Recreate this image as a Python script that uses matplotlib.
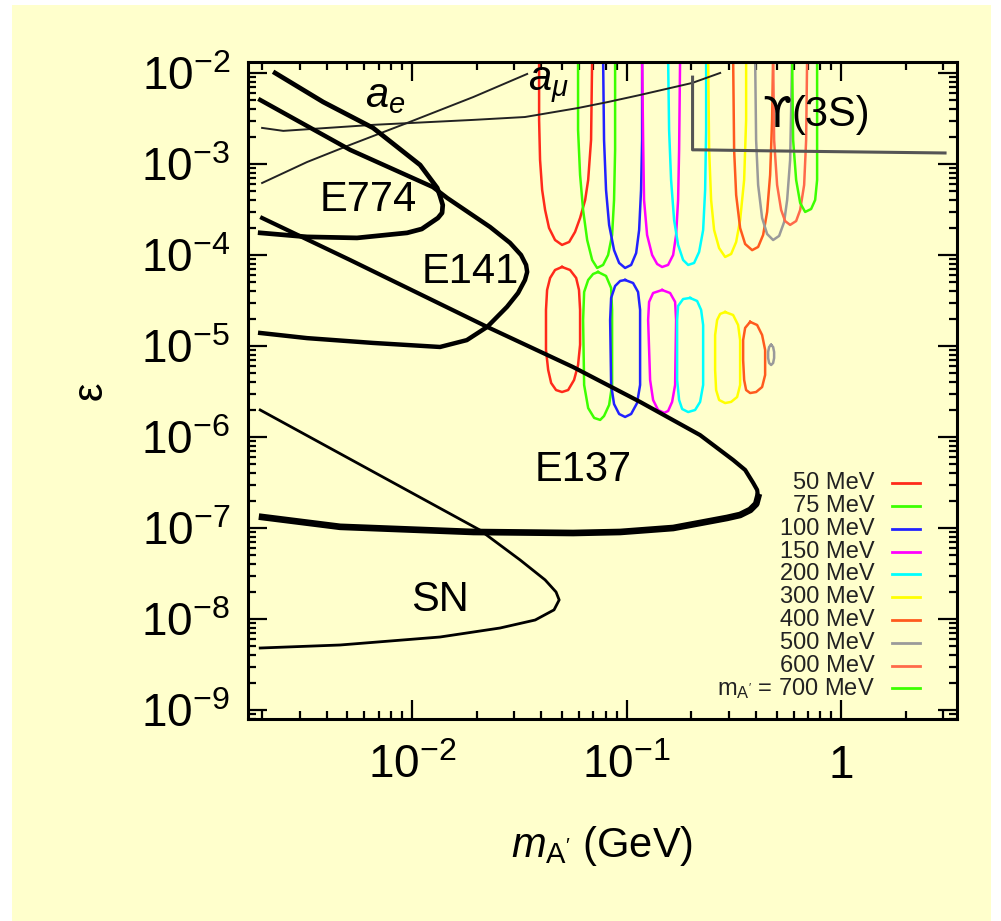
import numpy as np
import matplotlib
matplotlib.use('Agg')
import matplotlib.pyplot as plt
from matplotlib.patches import Rectangle
from matplotlib.ticker import LogLocator, NullFormatter

plt.rcParams['font.family'] = ['Liberation Sans', 'DejaVu Sans']
plt.rcParams['mathtext.fontset'] = 'custom'
plt.rcParams['mathtext.rm'] = 'Liberation Sans'
plt.rcParams['mathtext.it'] = 'Liberation Sans:italic'
plt.rcParams['mathtext.default'] = 'regular'

bg = '#FFFFCC'

# ticks
x_ticks = [1e-2, 1e-1, 1]
x_ticklabels = ['$10^{-2}$', '$10^{-1}$', '1']
y_ticks = [1e-9, 1e-8, 1e-7, 1e-6, 1e-5, 1e-4, 1e-3, 1e-2]
y_ticklabels = ['$10^{-9}$', '$10^{-8}$', '$10^{-7}$', '$10^{-6}$',
                '$10^{-5}$', '$10^{-4}$', '$10^{-3}$', '$10^{-2}$']

# black exclusion curves (mass in GeV, epsilon)
e774_m = [2.30e-3, 3.85e-3, 6.58e-3, 1.09e-2, 1.31e-2, 1.35e-2, 1.39e-2, 1.38e-2, 1.32e-2, 1.11e-2, 9.48e-3, 5.54e-3, 3.24e-3, 1.96e-3]
e774_eps = [1.0e-2, 4.80e-3, 2.49e-3, 9.75e-4, 5.45e-4, 4.45e-4, 3.54e-4, 2.90e-4, 2.55e-4, 1.93e-4, 1.75e-4, 1.54e-4, 1.58e-4, 1.75e-4]

e141_m = [1.96e-3, 5.14e-3, 1.25e-2, 1.46e-2, 2.31e-2, 2.86e-2, 3.22e-2, 3.40e-2, 3.44e-2, 3.36e-2, 3.12e-2, 2.77e-2, 2.24e-2, 1.80e-2, 1.35e-2, 6.58e-3, 3.24e-3, 1.96e-3]
e141_eps = [5.05e-3, 1.43e-3, 5.58e-4, 4.22e-4, 2.03e-4, 1.36e-4, 1.0e-4, 7.77e-5, 6.50e-5, 5.31e-5, 3.82e-5, 2.69e-5, 1.62e-5, 1.16e-5, 9.75e-6, 1.08e-5, 1.22e-5, 1.39e-5]

e137_up_m = [2.0e-3, 5.14e-3, 2.24e-2, 5.63e-2, 0.1156, 0.220, 0.314, 0.357, 0.389, 0.406, 0.410]
e137_up_eps = [2.55e-4, 8.81e-5, 1.62e-5, 5.87e-6, 2.43e-6, 1.05e-6, 5.58e-7, 4.34e-7, 3.13e-7, 2.62e-7, 2.19e-7]
e137_low_m = [0.410, 0.402, 0.377, 0.338, 0.294, 0.220, 0.165, 9.33e-2, 5.63e-2, 1.93e-2, 4.62e-3, 2.0e-3]
e137_low_eps = [2.19e-7, 1.84e-7, 1.58e-7, 1.39e-7, 1.29e-7, 1.135e-7, 1.0e-7, 9.04e-8, 8.81e-8, 9.04e-8, 1.03e-7, 1.32e-7]

sn_m = [1.96e-3, 2.07e-2, 3.19e-2, 4.17e-2, 4.69e-2, 4.85e-2, 4.59e-2, 3.75e-2, 2.57e-2, 1.35e-2, 4.62e-3, 1.96e-3]
sn_eps = [1.98e-6, 9.5e-8, 4.45e-8, 2.69e-8, 1.98e-8, 1.62e-8, 1.26e-8, 9.75e-9, 7.96e-9, 6.34e-9, 5.18e-9, 4.80e-9]

ae_m = [2.0e-3, 3.24e-3, 5.14e-3, 9.48e-3, 1.93e-2, 3.44e-2]
ae_eps = [6.18e-4, 1.05e-3, 1.62e-3, 2.82e-3, 5.44e-3, 9.75e-3]

amu_m = [2.0e-3, 2.51e-3, 6.58e-3, 1.93e-2, 3.36e-2, 5.94e-2, 8.20e-2, 0.1156, 0.202, 0.273]
amu_eps = [2.49e-3, 2.31e-3, 2.69e-3, 3.05e-3, 3.28e-3, 4.12e-3, 4.80e-3, 5.73e-3, 7.76e-3, 1.0e-2]

ups_m = [0.203, 0.203, 0.213, 0.50, 3.05]
ups_eps = [9.0e-3, 1.43e-3, 1.43e-3, 1.39e-3, 1.32e-3]

# colored contours: upper (U shaped) and lower (closed) regions per A' mass
u50_m = [0.0391, 0.0391, 0.0395, 0.0404, 0.0417, 0.0435, 0.0464, 0.0500, 0.0540, 0.0575, 0.0607, 0.0641, 0.0662, 0.0683, 0.0691]
u50_eps = [1.5e-2, 3.05e-3, 1.11e-3, 5.18e-4, 3.12e-4, 1.98e-4, 1.46e-4, 1.29e-4, 1.39e-4, 1.79e-4, 2.55e-4, 4.02e-4, 6.67e-4, 1.84e-3, 1.5e-2]
u75_m = [0.0594, 0.0594, 0.0607, 0.0627, 0.0655, 0.0691, 0.0729, 0.0777, 0.0820, 0.0856, 0.0874, 0.0884, 0.0884]
u75_eps = [1.5e-2, 2.37e-3, 7.57e-4, 3.12e-4, 1.46e-4, 8.81e-5, 7.20e-5, 7.77e-5, 1.0e-4, 1.66e-4, 4.02e-4, 1.425e-3, 1.5e-2]
u100_m = [0.0777, 0.0785, 0.0802, 0.0829, 0.0874, 0.0923, 0.0984, 0.1050, 0.1108, 0.1144, 0.1168, 0.1181, 0.1181]
u100_eps = [1.5e-2, 1.84e-3, 5.18e-4, 2.14e-4, 1.13e-4, 8.17e-5, 7.20e-5, 7.77e-5, 1.05e-4, 1.88e-4, 5.18e-4, 1.84e-3, 1.5e-2]
u150_m = [0.1181, 0.1194, 0.1206, 0.1246, 0.1315, 0.1388, 0.1464, 0.1561, 0.1648, 0.1701, 0.1738, 0.1757, 0.1776]
u150_eps = [1.5e-2, 1.84e-3, 4.02e-4, 1.66e-4, 1.0e-4, 7.96e-5, 7.38e-5, 7.77e-5, 1.0e-4, 1.66e-4, 4.02e-4, 1.425e-3, 1.5e-2]
u200_m = [0.1561, 0.1578, 0.1612, 0.1665, 0.1738, 0.1834, 0.1936, 0.2064, 0.2178, 0.2274, 0.2323, 0.2348, 0.2348]
u200_eps = [1.5e-2, 2.37e-3, 6.67e-4, 2.42e-4, 1.29e-4, 8.81e-5, 7.77e-5, 8.17e-5, 1.08e-4, 1.88e-4, 5.18e-4, 2.37e-3, 1.5e-2]
u300_m = [0.2399, 0.2425, 0.2477, 0.2558, 0.2699, 0.2879, 0.3071, 0.3241, 0.3382, 0.3531, 0.3607, 0.3607]
u300_eps = [1.5e-2, 1.425e-3, 4.02e-4, 1.88e-4, 1.19e-4, 9.51e-5, 1.025e-4, 1.39e-4, 2.42e-4, 6.67e-4, 3.05e-3, 1.5e-2]
u400_m = [0.3137, 0.3171, 0.3241, 0.3382, 0.3569, 0.3847, 0.4103, 0.4329, 0.4519, 0.4667, 0.4767, 0.4819]
u400_eps = [1.5e-2, 1.425e-3, 4.56e-4, 1.98e-4, 1.32e-4, 1.13e-4, 1.225e-4, 1.66e-4, 2.97e-4, 7.57e-4, 3.05e-3, 1.5e-2]
u500_m = [0.3973, 0.4015, 0.4103, 0.4282, 0.4519, 0.4819, 0.5140, 0.5424, 0.5602, 0.5784, 0.5847, 0.5909]
u500_eps = [1.5e-2, 1.84e-3, 5.88e-4, 2.55e-4, 1.70e-4, 1.46e-4, 1.62e-4, 2.30e-4, 4.02e-4, 1.107e-3, 3.92e-3, 1.5e-2]
u600_m = [0.4819, 0.4871, 0.5030, 0.5253, 0.548, 0.5784, 0.617, 0.6442, 0.6723, 0.6869, 0.6943]
u600_eps = [1.5e-2, 1.84e-3, 5.88e-4, 3.12e-4, 2.36e-4, 2.14e-4, 2.36e-4, 3.12e-4, 5.88e-4, 1.84e-3, 1.5e-2]
u700_m = [0.5909, 0.5973, 0.617, 0.6442, 0.6796, 0.7246, 0.7566, 0.7727, 0.7727]
u700_eps = [1.5e-2, 1.84e-3, 6.67e-4, 3.73e-4, 2.97e-4, 3.20e-4, 4.02e-4, 6.67e-4, 1.5e-2]

l50_m = [0.0500, 0.0545, 0.0582, 0.0600, 0.0607, 0.0607, 0.0594, 0.0569, 0.0534, 0.0500, 0.0469, 0.0445, 0.0431, 0.0421, 0.0421, 0.0426, 0.0440, 0.0464, 0.0500]
l50_eps = [7.38e-5, 6.84e-5, 5.59e-5, 4.12e-5, 2.49e-5, 1.03e-5, 6.18e-6, 4.23e-6, 3.28e-6, 3.12e-6, 3.28e-6, 3.92e-6, 5.45e-6, 9.04e-6, 2.49e-5, 4.12e-5, 5.59e-5, 6.84e-5, 7.38e-5]
l75_m = [0.0736, 0.0802, 0.0847, 0.0856, 0.0856, 0.0829, 0.0785, 0.0753, 0.0706, 0.0662, 0.0634, 0.0627, 0.0634, 0.0662, 0.0698, 0.0736]
l75_eps = [6.50e-5, 5.88e-5, 4.34e-5, 2.49e-5, 3.73e-6, 2.25e-6, 1.70e-6, 1.54e-6, 1.62e-6, 2.08e-6, 3.73e-6, 1.93e-5, 3.92e-5, 5.31e-5, 6.18e-5, 6.50e-5]
l100_m = [0.0984, 0.1072, 0.1131, 0.1156, 0.1156, 0.1119, 0.1050, 0.0984, 0.0923, 0.0874, 0.0847, 0.0838, 0.0847, 0.0884, 0.0933, 0.0984]
l100_eps = [5.31e-5, 4.92e-5, 3.92e-5, 2.49e-5, 3.73e-6, 2.36e-6, 1.79e-6, 1.66e-6, 1.79e-6, 2.30e-6, 3.73e-6, 1.93e-5, 3.37e-5, 4.56e-5, 5.18e-5, 5.31e-5]
l150_m = [0.1464, 0.1595, 0.1683, 0.1701, 0.1683, 0.1630, 0.1561, 0.1496, 0.1402, 0.1329, 0.1287, 0.1260, 0.1273, 0.1329, 0.1464]
l150_eps = [4.12e-5, 3.82e-5, 3.05e-5, 1.93e-5, 3.73e-6, 2.43e-6, 1.93e-6, 1.84e-6, 1.98e-6, 2.55e-6, 4.23e-6, 1.93e-5, 3.05e-5, 3.82e-5, 4.12e-5]
l200_m = [0.1977, 0.2132, 0.2225, 0.2274, 0.2274, 0.2201, 0.2086, 0.1936, 0.1815, 0.1757, 0.1720, 0.1720, 0.1738, 0.1834, 0.1977]
l200_eps = [3.37e-5, 3.12e-5, 2.49e-5, 1.70e-5, 3.73e-6, 2.43e-6, 1.98e-6, 1.88e-6, 2.03e-6, 2.55e-6, 4.23e-6, 1.93e-5, 2.75e-5, 3.28e-5, 3.37e-5]
l300_m = [0.2879, 0.3137, 0.3310, 0.3382, 0.3382, 0.3275, 0.3071, 0.2879, 0.2699, 0.2614, 0.2586, 0.2586, 0.2642, 0.2729, 0.2879]
l300_eps = [2.36e-5, 2.19e-5, 1.70e-5, 1.16e-5, 3.73e-6, 2.75e-6, 2.43e-6, 2.36e-6, 2.55e-6, 3.28e-6, 5.45e-6, 1.32e-5, 1.93e-5, 2.25e-5, 2.36e-5]
l400_m = [0.3766, 0.4059, 0.4282, 0.4423, 0.4423, 0.4282, 0.4015, 0.3766, 0.3607, 0.3531, 0.3493, 0.3493, 0.3569, 0.3766]
l400_eps = [1.84e-5, 1.70e-5, 1.32e-5, 9.04e-6, 4.80e-6, 3.54e-6, 3.12e-6, 3.04e-6, 3.28e-6, 4.23e-6, 7.02e-6, 1.16e-5, 1.58e-5, 1.84e-5]
l500_m = [0.4717, 0.4819, 0.4871, 0.4871, 0.4819, 0.4717, 0.4617, 0.4567, 0.4567, 0.4617, 0.4717]
l500_eps = [1.03e-5, 9.75e-6, 8.59e-6, 7.38e-6, 6.50e-6, 6.18e-6, 6.50e-6, 7.38e-6, 8.59e-6, 9.75e-6, 1.03e-5]

mass_labels = ['50 MeV', '75 MeV', '100 MeV', '150 MeV', '200 MeV', '300 MeV',
               '400 MeV', '500 MeV', '600 MeV', "$m_{A'}$ = 700 MeV"]
colors = ['#FF2A1A', '#3CFF00', '#2222FF', '#FF00FF', '#00FFFF', '#FFFF00',
          '#FF5A1E', '#9A9A9A', '#FF6A4A', '#3CFF00']

upper = [(u50_m, u50_eps), (u75_m, u75_eps), (u100_m, u100_eps), (u150_m, u150_eps),
         (u200_m, u200_eps), (u300_m, u300_eps), (u400_m, u400_eps), (u500_m, u500_eps),
         (u600_m, u600_eps), (u700_m, u700_eps)]
lower = [(l50_m, l50_eps), (l75_m, l75_eps), (l100_m, l100_eps), (l150_m, l150_eps),
         (l200_m, l200_eps), (l300_m, l300_eps), (l400_m, l400_eps), (l500_m, l500_eps),
         None, None]

fig = plt.figure(figsize=(10.01, 9.21), dpi=100)
fig.patches.append(Rectangle((0.012, 0.0), 0.978, 0.9946, transform=fig.transFigure,
                             facecolor=bg, edgecolor='none', zorder=-10))
ax = fig.add_axes([0.2478, 0.2193, 0.7083, 0.7134])
ax.set_facecolor(bg)
ax.set_xscale('log')
ax.set_yscale('log')

for i in range(len(colors)):
    ax.plot(upper[i][0], upper[i][1], color=colors[i], lw=1.8, zorder=2, solid_joinstyle='round')
    if lower[i] is not None:
        ax.plot(lower[i][0], lower[i][1], color=colors[i], lw=1.8, zorder=2, solid_joinstyle='round')

ax.plot(ae_m, ae_eps, color='#222222', lw=1.4, zorder=3)
ax.plot(amu_m, amu_eps, color='#222222', lw=1.4, zorder=3)
ax.plot(ups_m, ups_eps, color='#555555', lw=2.2, zorder=3)
ax.plot(e774_m, e774_eps, color='black', lw=3.4, zorder=4, solid_joinstyle='round')
ax.plot(e141_m, e141_eps, color='black', lw=3.2, zorder=4, solid_joinstyle='round')
ax.plot(e137_up_m, e137_up_eps, color='black', lw=3.0, zorder=4, solid_joinstyle='round')
ax.plot(e137_low_m, e137_low_eps, color='black', lw=4.8, zorder=4, solid_joinstyle='round')
ax.plot(sn_m, sn_eps, color='black', lw=2.0, zorder=4, solid_joinstyle='round')

# region labels
lab_fs = 30
ax.text(7.48e-3, 5.6e-3, '$\\mathit{a}_{\\mathit{e}}$', fontsize=lab_fs, ha='center', va='center')
ax.text(4.31e-2, 7.2e-3, '$\\mathit{a}_{\\mathit{\\mu}}$', fontsize=lab_fs, ha='center', va='center')
ax.text(6.23e-3, 4.02e-4, 'E774', fontsize=lab_fs, ha='center', va='center')
ax.text(1.86e-2, 6.5e-5, 'E141', fontsize=lab_fs, ha='center', va='center')
ax.text(6.27e-2, 4.34e-7, 'E137', fontsize=lab_fs, ha='center', va='center')
ax.text(1.35e-2, 1.62e-8, 'SN', fontsize=lab_fs, ha='center', va='center')
# upsilon with hook taken from DejaVu, rest of the label in the main font
ups_txt = ax.text(0.43, 3.45e-3, '\u03d2', fontsize=lab_fs, family=['DejaVu Sans'],
                  ha='left', va='center')
ax.annotate('(3S)', xy=(1, 0.5), xycoords=ups_txt, fontsize=lab_fs, ha='left', va='center')

# legend drawn by hand, labels right aligned
y0 = 0.359
for i in range(len(mass_labels)):
    yy = y0 - i * 0.0347
    ax.text(0.884, yy, mass_labels[i], transform=ax.transAxes, fontsize=17,
            ha='right', va='center', color='#222222')
    ax.plot([0.908, 0.948], [yy, yy], transform=ax.transAxes, color=colors[i], lw=2)

ax.set_xlim(1.72e-3, 3.47)
ax.set_ylim(7.96e-10, 1.32e-2)
ax.set_xticks(x_ticks, x_ticklabels)
ax.set_yticks(y_ticks, y_ticklabels)
ax.xaxis.set_minor_locator(LogLocator(base=10, subs=np.arange(2, 10), numticks=100))
ax.yaxis.set_minor_locator(LogLocator(base=10, subs=np.arange(2, 10), numticks=100))
ax.xaxis.set_minor_formatter(NullFormatter())
ax.yaxis.set_minor_formatter(NullFormatter())
ax.tick_params(which='both', direction='in', top=True, right=True, width=1.6, labelsize=33)
ax.tick_params(which='major', length=14)
ax.tick_params(axis='y', which='major', pad=13)
ax.tick_params(axis='x', which='major', pad=18)
ax.tick_params(which='minor', length=6)
for s in ax.spines.values():
    s.set_linewidth(2.2)

ax.set_xlabel("$\\mathit{m}_{A'}$ (GeV)", fontsize=30, labelpad=26)
ax.set_ylabel('\u03b5', fontsize=30, labelpad=22)

fig.savefig('out.png', dpi=100, facecolor='white')
